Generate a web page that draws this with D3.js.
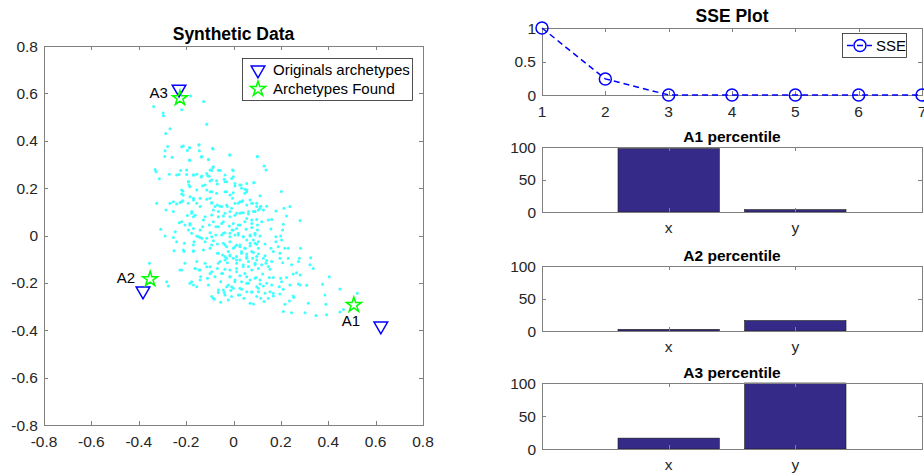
<!DOCTYPE html>
<html>
<head>
<meta charset="utf-8">
<script src="https://cdn.jsdelivr.net/npm/d3@7"></script>
<style>
  html, body { margin: 0; padding: 0; background: #fff; }
  svg { display: block; font-family: "Liberation Sans", Arial, Helvetica, sans-serif; }
</style>
</head>
<body>
<svg id="fig" width="924" height="473"></svg>
<script>
// ---- Data -------------------------------------------------------------
// Synthetic 2-D point cloud [x, y]
const cloud = [
  [-0.181,0.589],[-0.126,0.566],[-0.219,0.531],[-0.337,0.545],[-0.297,0.517],[-0.296,0.506],
  [-0.113,0.470],[-0.268,0.451],[-0.286,0.431],[-0.278,0.376],[-0.212,0.378],[-0.146,0.383],
  [-0.186,0.369],[-0.195,0.359],[-0.144,0.358],[-0.289,0.358],[-0.086,0.365],[-0.016,0.340],
  [-0.290,0.334],[-0.259,0.330],[-0.137,0.331],[-0.185,0.317],[-0.105,0.321],[-0.331,0.279],
  [-0.327,0.269],[-0.223,0.274],[-0.088,0.286],[-0.092,0.274],[-0.064,0.275],[-0.004,0.276],
  [-0.271,0.259],[-0.240,0.255],[-0.230,0.257],[-0.198,0.257],[-0.169,0.255],[-0.155,0.259],
  [-0.109,0.252],[-0.103,0.250],[-0.137,0.247],[-0.036,0.255],[-0.039,0.237],[-0.313,0.240],
  [-0.001,0.248],
  [-0.189,0.227],[-0.188,0.213],[-0.130,0.210],[-0.099,0.230],[-0.068,0.217],[-0.029,0.227],
  [0.006,0.209],[-0.214,0.188],[-0.219,0.175],[-0.155,0.192],[-0.099,0.185],[-0.029,0.185],
  [-0.268,0.136],[-0.254,0.143],[-0.240,0.133],[-0.226,0.139],[-0.214,0.147],[-0.324,0.136],
  [-0.285,0.108],[-0.169,0.157],[-0.141,0.157],[-0.099,0.157],[-0.092,0.139],[-0.068,0.129],
  [-0.050,0.122],[-0.026,0.122],[-0.015,0.171],[-0.004,0.157],[0.020,0.136],[-0.254,0.101],
  [-0.177,0.094],[-0.169,0.079],[-0.195,0.084],[-0.127,0.065],[-0.092,0.087],[-0.064,0.079],
  [-0.036,0.094],[-0.015,0.079],[0.013,0.094],[-0.229,0.054],[-0.205,0.044],[-0.184,0.044],
  [-0.130,0.037],[-0.102,0.044],[-0.074,0.037],[-0.050,0.051],[-0.018,0.040],[-0.006,0.023],
  [0.013,0.030],[-0.307,0.026],[-0.289,-0.002],[-0.246,0.016],[-0.254,-0.008],[-0.190,0.023],
  [-0.177,0.009],[-0.155,-0.002],[-0.141,-0.008],[-0.099,0.012],[-0.075,0.002],[-0.050,0.002],
  [-0.036,0.012],[-0.015,-0.005],[0.006,0.002],[0.020,0.009],[-0.240,-0.026],[-0.207,-0.033],
  [-0.167,-0.026],[-0.120,-0.026],[-0.085,-0.022],[-0.068,-0.036],[-0.036,-0.040],[-0.015,-0.026],
  [0.013,-0.040],[-0.251,-0.064],[-0.209,-0.068],[-0.169,-0.064],[-0.127,-0.061],[-0.099,-0.054],
  [-0.068,-0.075],[-0.046,-0.082],[-0.022,-0.068],[-0.001,-0.054],[-0.355,-0.117],[-0.029,-0.096],
  [-0.015,-0.087],[-0.057,-0.110],[-0.026,-0.115],[0.013,-0.103],[-0.226,-0.146],[-0.162,-0.139],
  [-0.146,-0.146],[-0.113,-0.132],[-0.092,-0.153],[-0.068,-0.139],[-0.046,-0.160],[-0.015,-0.146],
  [0.013,-0.139],[-0.282,-0.195],[-0.177,-0.195],[-0.139,-0.174],[-0.110,-0.181],[-0.078,-0.174],
  [-0.054,-0.195],[-0.015,-0.174],[0.006,-0.188],[-0.275,-0.213],[-0.155,-0.216],[-0.106,-0.209],
  [-0.064,-0.230],[-0.029,-0.216],[-0.001,-0.223],[-0.092,-0.258],[0.020,-0.251],
  [-0.039,-0.241],[-0.011,-0.232],[-0.081,-0.269],[-0.054,-0.282],[-0.022,-0.272],
  [0.101,0.333],[0.129,0.293],[0.137,0.276],[0.086,0.224],[0.202,0.186],[0.049,0.195],
  [0.056,0.185],[0.032,0.213],[0.112,0.168],[0.027,0.143],[0.039,0.147],[0.070,0.150],
  [0.081,0.136],[0.098,0.136],[0.115,0.124],[0.140,0.124],[0.126,0.108],[0.179,0.103],
  [0.213,0.115],[0.238,0.122],[0.224,0.082],[0.027,0.094],[0.041,0.096],[0.063,0.101],
  [0.084,0.101],[0.105,0.108],[0.056,0.072],[0.077,0.065],[0.098,0.068],[0.119,0.058],
  [0.147,0.065],[0.161,0.068],[0.281,0.063],[0.027,0.044],[0.053,0.026],[0.077,0.034],
  [0.101,0.023],[0.158,0.027],[0.210,0.047],[0.207,0.023],[0.041,-0.005],[0.070,-0.002],
  [0.091,0.002],[0.112,-0.002],[0.056,-0.019],[0.084,-0.019],[0.105,-0.026],[0.179,-0.005],
  [0.199,-0.002],[0.203,-0.019],[0.179,-0.026],[0.027,-0.047],[0.049,-0.054],[0.070,-0.044],
  [0.098,-0.037],[0.133,-0.036],[0.158,-0.054],[0.189,-0.047],[0.217,-0.054],[0.231,-0.054],
  [0.283,-0.054],[0.034,-0.068],[0.056,-0.078],[0.084,-0.072],[0.105,-0.078],[0.133,-0.086],
  [0.168,-0.068],[0.196,-0.075],[0.027,-0.103],[0.056,-0.089],[0.081,-0.096],[0.098,-0.103],
  [0.126,-0.096],[0.140,-0.106],[0.161,-0.110],[0.196,-0.096],[0.208,-0.115],[0.231,-0.096],
  [0.278,-0.096],[0.326,-0.094],[0.274,-0.110],[0.041,-0.131],[0.063,-0.131],[0.091,-0.124],
  [0.119,-0.124],[0.137,-0.117],[0.147,-0.131],[0.154,-0.143],[0.245,-0.124],[0.323,-0.124],
  [0.337,-0.139],[0.027,-0.170],[0.056,-0.174],[0.095,-0.177],[0.123,-0.163],[0.151,-0.177],
  [0.168,-0.177],[0.199,-0.181],[0.224,-0.177],[0.252,-0.163],[0.266,-0.157],[0.281,-0.167],
  [0.404,-0.174],[0.056,-0.202],[0.070,-0.188],[0.098,-0.216],[0.112,-0.205],[0.126,-0.213],
  [0.140,-0.202],[0.161,-0.209],[0.203,-0.195],[0.238,-0.209],[0.274,-0.205],[0.281,-0.209],
  [0.309,-0.210],[0.376,-0.206],[0.034,-0.227],[0.077,-0.240],[0.105,-0.237],[0.133,-0.244],
  [0.154,-0.237],[0.168,-0.244],[0.193,-0.216],[0.210,-0.227],[0.449,-0.226],[0.044,-0.265],
  [0.070,-0.286],[0.084,-0.289],[0.115,-0.265],[0.129,-0.279],[0.147,-0.265],[0.168,-0.255],
  [0.196,-0.247],[0.252,-0.255],[0.255,-0.262],[0.316,-0.286],[0.386,-0.251],[0.390,-0.290],
  [0.522,-0.244],[0.217,-0.290],[0.236,-0.276],[0.210,-0.321],[0.245,-0.326],[0.302,-0.326],
  [0.348,-0.338],[0.393,-0.335],[0.449,-0.323],[0.464,-0.312],
  [-0.219,0.058],[-0.184,0.051],[-0.169,0.030],[-0.141,0.023],[-0.085,0.058],[-0.064,0.037],
  [-0.043,0.058],[-0.001,0.051],[0.020,0.044],[0.048,0.058],[0.077,0.051],[0.101,0.044],
  [-0.148,-0.005],[-0.134,-0.012],[-0.113,-0.012],[-0.092,-0.005],[-0.043,0.009],[-0.015,0.009],
  [-0.001,0.023],[0.020,0.002],[0.041,-0.005],[0.070,0.002],[0.091,0.009],[-0.169,-0.040],
  [-0.092,-0.040],[-0.043,-0.033],[-0.029,-0.047],[0.006,-0.047],[0.027,-0.040],[0.048,-0.054],
  [0.070,-0.033],[0.091,-0.033],[0.105,-0.054],[-0.212,-0.061],[-0.169,-0.068],[-0.064,-0.075],
  [-0.036,-0.089],[-0.015,-0.082],[0.013,-0.089],[0.034,-0.075],[0.056,-0.096],[0.077,-0.068],
  [0.098,-0.089],[-0.205,-0.117],[-0.155,-0.110],[-0.120,-0.117],[-0.099,-0.132],[-0.064,-0.117],
  [-0.036,-0.103],[-0.001,-0.096],[0.013,-0.117],[0.041,-0.124],[0.063,-0.110],[0.091,-0.117],
  [-0.162,-0.139],[-0.141,-0.146],[-0.219,-0.146],[-0.050,-0.160],[-0.036,-0.143],[0.013,-0.153],
  [0.048,-0.160],[0.077,-0.146],[0.105,-0.139],[-0.184,-0.202],[-0.141,-0.188],[-0.099,-0.160],
  [-0.015,-0.174],[0.006,-0.195],[0.034,-0.195],[0.063,-0.202],[0.091,-0.181],[0.112,-0.188],
  [-0.169,-0.209],[-0.043,-0.230],[-0.022,-0.209],[-0.008,-0.216],[0.027,-0.223],[0.056,-0.237],
  [0.077,-0.237],[0.105,-0.223],[-0.085,-0.265],[-0.064,-0.241],[-0.036,-0.251],[-0.008,-0.258],
  [0.027,-0.251],[0.098,-0.258],
  [-0.219,0.375],[-0.186,0.372],[-0.146,0.382],[-0.088,0.368],[-0.015,0.340],[0.101,0.333],
  [-0.186,0.319],[-0.134,0.333],[-0.106,0.321],[-0.085,0.290],[-0.099,0.276],[-0.057,0.274],
  [-0.001,0.274],[-0.198,0.276],[-0.169,0.255],[-0.134,0.251],[-0.113,0.262],[-0.092,0.234],
  [-0.071,0.231],[-0.036,0.227],[-0.008,0.241],[0.006,0.220],[0.027,0.213],[0.056,0.220],
  [0.087,0.223],[-0.219,0.192],[-0.191,0.227],[-0.184,0.206],[-0.120,0.213],[-0.113,0.192],
  [-0.092,0.185],[-0.071,0.178],[-0.036,0.185],[-0.001,0.181],[0.034,0.199],[0.056,0.192],
  [0.048,0.178],[-0.212,0.171],[-0.184,0.164],[-0.169,0.150],[-0.155,0.136],[-0.219,0.143],
  [-0.191,0.136],[-0.141,0.122],[-0.113,0.153],[-0.092,0.136],[-0.078,0.122],[-0.057,0.124],
  [-0.029,0.129],[-0.008,0.115],[0.006,0.136],[0.034,0.143],[0.056,0.129],[0.077,0.136],
  [0.098,0.122],[-0.176,0.101],[-0.162,0.086],[-0.120,0.079],[-0.085,0.108],[-0.064,0.101],
  [-0.043,0.082],[-0.015,0.101],[0.006,0.086],[0.034,0.096],[0.063,0.091],[0.091,0.101],
  [0.112,0.115]
];

// Archetypes: original and recovered positions
const archNames = ["A1", "A2", "A3"];
const archOriginal = [[0.622, -0.382], [-0.382, -0.234], [-0.230, 0.618]];
const archFound    = [[0.508, -0.293], [-0.352, -0.184], [-0.226, 0.580]];

// Sum of squared errors per iteration
const sseIter   = [1, 2, 3, 4, 5, 6, 7];
const sseValues = [1, 0.24, 0, 0, 0, 0, 0];

// Percentile of each archetype along x and y
const dims = ["x", "y"];
const percentiles = {
  A1: [97.5, 3.6],
  A2: [2.5, 16],
  A3: [16.5, 100]
};

// ---- Styling ----------------------------------------------------------
const AX = "#262626";
const FRAME = "#808080";
const BAR = "#352A87";
const TICK_FS = 15.5;
const svg = d3.select("#fig");

function box(g, x0, y0, x1, y1) {
  g.append("rect")
    .attr("x", x0 + 0.5).attr("y", y0 + 0.5)
    .attr("width", x1 - x0).attr("height", y1 - y0)
    .attr("fill", "none").attr("stroke", FRAME).attr("stroke-width", 1);
}

// Axis helper: inward ticks on both opposite sides, labels on one side
function ticks(g, scale, values, orient, pos, opp, len, fmt, labelOff) {
  values.forEach(v => {
    const p = Math.round(scale(v)) + 0.5;
    if (orient === "x") {
      g.append("line").attr("x1", p).attr("x2", p).attr("y1", pos).attr("y2", pos - len)
        .attr("stroke", FRAME);
      g.append("line").attr("x1", p).attr("x2", p).attr("y1", opp).attr("y2", opp + len)
        .attr("stroke", FRAME);
      g.append("text").attr("x", scale(v)).attr("y", pos + labelOff)
        .attr("text-anchor", "middle").attr("font-size", TICK_FS).attr("fill", AX)
        .text(fmt(v));
    } else {
      g.append("line").attr("y1", p).attr("y2", p).attr("x1", pos).attr("x2", pos + len)
        .attr("stroke", FRAME);
      g.append("line").attr("y1", p).attr("y2", p).attr("x1", opp).attr("x2", opp - len)
        .attr("stroke", FRAME);
      g.append("text").attr("x", pos - labelOff).attr("y", scale(v))
        .attr("dy", "0.36em").attr("text-anchor", "end")
        .attr("font-size", TICK_FS).attr("fill", AX).text(fmt(v));
    }
  });
}

// plain hyphen-minus, trimmed decimals
const fmtNum = v => String(+v.toFixed(2));

// ---- Left: synthetic data scatter -------------------------------------
{
  const L = 44, R = 423, T = 46, B = 425;
  const x = d3.scaleLinear().domain([-0.8, 0.8]).range([L, R]);
  const y = d3.scaleLinear().domain([-0.8, 0.8]).range([B, T]);
  const g = svg.append("g");
  const tv = d3.range(-0.8, 0.81, 0.2).map(v => +v.toFixed(1));

  g.append("g").selectAll("circle").data(cloud).join("circle")
    .attr("cx", d => x(d[0])).attr("cy", d => y(d[1])).attr("r", 1.5)
    .attr("fill", "#40ffff");

  box(g, L, T, R, B);
  ticks(g, x, tv, "x", B, T, 4, fmtNum, 22);
  ticks(g, y, tv, "y", L, R, 4, fmtNum, 6);

  const tri = d3.symbol().type(d3.symbolTriangle).size(80);
  const star = d3.symbol().type(d3.symbolStar).size(70);

  g.append("g").selectAll("path").data(archOriginal).join("path")
    .attr("d", tri)
    .attr("transform", d => `translate(${x(d[0])},${y(d[1])}) rotate(180)`)
    .attr("fill", "none").attr("stroke", "#0000ff").attr("stroke-width", 1.5);

  g.append("g").selectAll("path").data(archFound).join("path")
    .attr("d", star)
    .attr("transform", d => `translate(${x(d[0])},${y(d[1])})`)
    .attr("fill", "none").attr("stroke", "#00ff00").attr("stroke-width", 1.5);

  // archetype labels
  const labelShift = { A1: [-3, 21, "middle"], A2: [-15, 4, "end"], A3: [-12, 0, "end"] };
  archNames.forEach((n, i) => {
    const [dx, dy, anchor] = labelShift[n];
    g.append("text").attr("x", x(archFound[i][0]) + dx).attr("y", y(archFound[i][1]) + dy)
      .attr("text-anchor", anchor).attr("font-size", 15).attr("fill", "#000").text(n);
  });

  g.append("text").attr("x", (L + R) / 2).attr("y", 40).attr("text-anchor", "middle")
    .attr("font-size", 17.5).attr("font-weight", "bold").attr("fill", "#000").text("Synthetic Data");

  // legend
  const lg = g.append("g");
  lg.append("rect").attr("x", 242.5).attr("y", 58.5).attr("width", 170).attr("height", 42)
    .attr("fill", "#fff").attr("stroke", AX).attr("stroke-width", 0.8);
  lg.append("path").attr("d", tri).attr("transform", "translate(258,70) rotate(180)")
    .attr("fill", "none").attr("stroke", "#0000ff").attr("stroke-width", 1.5);
  lg.append("path").attr("d", star).attr("transform", "translate(258,89)")
    .attr("fill", "none").attr("stroke", "#00ff00").attr("stroke-width", 1.5);
  lg.append("text").attr("x", 273).attr("y", 75).attr("font-size", 15).attr("fill", "#000")
    .text("Originals archetypes");
  lg.append("text").attr("x", 273).attr("y", 94).attr("font-size", 15).attr("fill", "#000")
    .text("Archetypes Found");
}

// ---- Right top: SSE plot ----------------------------------------------
{
  const L = 542, R = 922, T = 28, B = 95;
  const x = d3.scaleLinear().domain([1, 7]).range([L, R]);
  const y = d3.scaleLinear().domain([0, 1]).range([B, T]);
  const g = svg.append("g");

  box(g, L, T, R, B);
  ticks(g, x, sseIter, "x", B, T, 4, d => String(d), 22);
  ticks(g, y, [0, 0.5, 1], "y", L, R, 4, fmtNum, 6);

  const line = d3.line().x((d, i) => x(sseIter[i])).y(d => y(d));
  g.append("path").datum(sseValues).attr("d", line)
    .attr("fill", "none").attr("stroke", "#0000ff").attr("stroke-width", 1.5)
    .attr("stroke-dasharray", "6,4");
  g.append("g").selectAll("circle").data(sseValues).join("circle")
    .attr("cx", (d, i) => x(sseIter[i])).attr("cy", d => y(d)).attr("r", 6)
    .attr("fill", "none").attr("stroke", "#0000ff").attr("stroke-width", 1.5);

  g.append("text").attr("x", (L + R) / 2).attr("y", 22).attr("text-anchor", "middle")
    .attr("font-size", 17.5).attr("font-weight", "bold").attr("fill", "#000").text("SSE Plot");

  const lg = g.append("g");
  lg.append("rect").attr("x", 842.5).attr("y", 33.5).attr("width", 64).attr("height", 24)
    .attr("fill", "#fff").attr("stroke", AX).attr("stroke-width", 0.8);
  lg.append("line").attr("x1", 847).attr("x2", 872).attr("y1", 45.5).attr("y2", 45.5)
    .attr("stroke", "#0000ff").attr("stroke-width", 1.5).attr("stroke-dasharray", "6,4");
  lg.append("circle").attr("cx", 860).attr("cy", 45.5).attr("r", 6)
    .attr("fill", "none").attr("stroke", "#0000ff").attr("stroke-width", 1.5);
  lg.append("text").attr("x", 876).attr("y", 50.5).attr("font-size", 15).attr("fill", "#000")
    .text("SSE");
}

// ---- Right: percentile bar charts -------------------------------------
const barPanels = [
  { name: "A1", top: 147, bottom: 212 },
  { name: "A2", top: 266, bottom: 331 },
  { name: "A3", top: 383, bottom: 449 }
];
barPanels.forEach(p => {
  const L = 542, R = 922;
  const x = d3.scaleLinear().domain([0, 3]).range([L, R]);
  const y = d3.scaleLinear().domain([0, 100]).range([p.bottom, p.top]);
  const g = svg.append("g");
  const vals = percentiles[p.name];

  g.selectAll("rect.bar").data(vals).join("rect").attr("class", "bar")
    .attr("x", (d, i) => x(i + 1 - 0.4)).attr("width", x(0.8) - x(0))
    .attr("y", d => y(d)).attr("height", d => y(0) - y(d))
    .attr("fill", BAR).attr("stroke", "#1a1a1a").attr("stroke-width", 0.6);

  box(g, L, p.top, R, p.bottom);
  // category ticks and labels
  dims.forEach((dname, i) => {
    const px = Math.round(x(i + 1)) + 0.5;
    g.append("line").attr("x1", px).attr("x2", px).attr("y1", p.bottom).attr("y2", p.bottom - 4)
      .attr("stroke", FRAME);
    g.append("line").attr("x1", px).attr("x2", px).attr("y1", p.top).attr("y2", p.top + 4)
      .attr("stroke", FRAME);
    g.append("text").attr("x", x(i + 1)).attr("y", p.bottom + 21).attr("text-anchor", "middle")
      .attr("font-size", TICK_FS).attr("fill", AX).text(dname);
  });
  ticks(g, y, [0, 50, 100], "y", L, R, 4, d => String(d), 6);

  g.append("text").attr("x", (L + R) / 2).attr("y", p.top - 5).attr("text-anchor", "middle")
    .attr("font-size", 15.5).attr("font-weight", "bold").attr("fill", "#000")
    .text(p.name + " percentile");
});
</script>
</body>
</html>
